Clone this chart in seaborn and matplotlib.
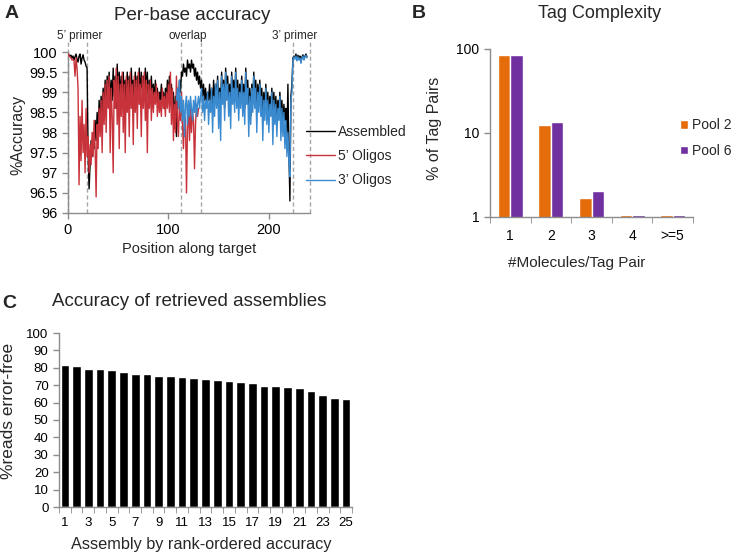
import numpy as np
import pandas as pd
import matplotlib
matplotlib.use("Agg")
import matplotlib.pyplot as plt
import seaborn as sns

# ---- panel A: per-base accuracy ----
assembled_start = 0
assembled = [
    99.95, 99.93, 99.90, 99.92, 99.85, 99.90, 99.80, 99.88, 99.95, 99.82,
    99.75, 99.90, 99.95, 99.70, 99.85, 99.93, 99.80, 99.75, 99.65, 99.60,
    97.5, 96.6, 97.2, 97.8, 97.4, 98.0, 97.6, 98.3, 97.8, 98.5,
    98.0, 98.8, 98.2, 98.9, 98.4, 99.1, 98.6, 99.3, 98.5, 99.4,
    98.9, 99.5, 98.7, 99.3, 98.8, 99.6, 98.9, 99.4, 98.6, 99.7,
    99.0, 99.5, 98.8, 99.4, 98.7, 99.5, 98.9, 99.3, 98.6, 99.5,
    98.9, 99.4, 98.8, 99.6, 99.0, 99.3, 98.7, 99.5, 98.9, 99.4,
    99.0, 99.6, 98.8, 99.5, 99.1, 99.4, 98.9, 99.6, 99.0, 99.5,
    98.8, 99.3, 99.0, 99.4, 98.9, 99.2, 98.8, 99.3, 98.9, 99.1,
    98.7, 99.0, 98.8, 99.2, 98.7, 99.0, 98.6, 99.1, 98.8, 99.3,
    98.9, 99.4, 98.8, 99.2, 98.4, 99.0, 98.1, 98.9, 97.9, 99.1,
    98.6, 99.3, 99.0, 99.5, 99.4, 99.7, 99.5, 99.6, 99.4, 99.8,
    99.6, 99.7, 99.5, 99.8, 99.6, 99.7, 99.4, 99.6, 99.3, 99.5,
    99.2, 99.4, 99.1, 99.3, 98.9, 99.2, 98.8, 99.1, 98.7, 99.0,
    98.8, 99.2, 98.7, 99.1, 98.6, 99.3, 98.8, 99.2, 98.9, 99.4,
    98.7, 99.1, 98.8, 99.5, 98.9, 99.3, 98.6, 99.6, 99.0, 99.4,
    98.8, 99.2, 98.7, 99.5, 99.0, 99.3, 98.8, 99.6, 98.9, 99.3,
    98.7, 99.2, 98.9, 99.4, 98.8, 99.2, 98.6, 99.6, 99.0, 99.3,
    98.6, 99.1, 98.4, 99.2, 98.7, 99.5, 98.9, 99.3, 98.6, 99.2,
    98.8, 99.3, 98.7, 99.1, 98.5, 99.0, 98.6, 99.2, 98.5, 99.0,
    98.4, 98.9, 98.6, 99.1, 98.5, 99.0, 98.4, 98.9, 98.3, 98.8,
    98.5, 99.0, 98.4, 98.8, 98.2, 98.7, 98.3, 98.6, 97.8, 99.2,
    97.5, 96.3, 98.9, 99.2, 99.85, 99.9, 99.85, 99.95, 99.8, 99.92,
    99.85, 99.9, 99.75, 99.88, 99.93, 99.82, 99.9, 99.95, 99.88,
]

oligo5_start = 0
oligo5 = [
    99.95, 99.9, 99.88, 99.85, 99.8, 99.82, 99.78, 99.4, 99.85, 99.6,
    99.1, 96.7, 98.4, 97.3, 98.8, 97.5, 98.2, 97.0, 98.6, 97.4,
    97.9, 97.0, 97.7, 97.2, 98.0, 97.4, 98.3, 97.6, 96.4, 98.2,
    97.6, 98.6, 97.9, 98.8, 97.5, 99.0, 98.2, 99.2, 98.0, 99.3,
    98.6, 99.4, 97.5, 99.1, 98.4, 97.0, 99.3, 98.6, 99.6, 98.2,
    99.4, 97.6, 99.2, 98.4, 99.5, 98.0, 99.2, 97.5, 99.4, 98.5,
    99.3, 97.9, 99.5, 98.6, 99.2, 97.7, 99.4, 98.5, 99.3, 98.1,
    99.5, 98.7, 99.2, 97.9, 99.4, 98.6, 99.5, 98.3, 99.3, 97.5,
    99.2, 98.6, 99.3, 98.3, 99.1, 98.5, 99.0, 98.7, 99.2, 98.4,
    99.0, 98.5, 98.8, 98.4, 99.1, 98.6, 98.9, 98.4, 99.0, 98.6,
    99.2, 98.5, 99.5, 98.2, 99.1, 97.8, 98.7, 98.0, 99.4, 98.3,
    97.9, 98.8, 98.3, 99.0, 98.2, 97.6, 98.4, 98.3, 96.5, 98.1,
    98.7, 97.8, 98.6, 98.0, 98.5, 98.3, 97.1, 98.2, 98.7, 98.4,
    98.6,
]

oligo3_start = 108
oligo3 = [
    98.8, 99.1, 98.6, 99.3, 98.5, 98.9, 98.3, 98.8, 97.9, 98.7,
    98.9, 98.2, 98.8, 98.4, 98.9, 98.6, 98.3, 98.8, 98.5, 98.9,
    98.4, 98.7, 98.9, 98.6, 98.9, 99.1, 98.5, 98.9, 98.3, 98.8,
    98.6, 99.0, 98.2, 98.8, 98.5, 99.1, 98.0, 98.9, 98.4, 99.2,
    98.6, 99.3, 98.1, 99.0, 97.8, 99.4, 98.7, 99.2, 98.3, 99.5,
    98.8, 99.2, 98.4, 99.0, 98.1, 99.4, 98.7, 99.1, 98.5, 99.5,
    98.6, 99.1, 98.3, 99.0, 98.6, 99.3, 98.4, 99.0, 98.2, 99.5,
    98.7, 99.1, 97.9, 98.9, 98.2, 99.1, 98.5, 99.4, 98.6, 99.1,
    98.0, 99.0, 98.5, 99.2, 98.4, 98.9, 97.8, 98.8, 98.3, 99.1,
    98.2, 98.8, 98.0, 98.7, 98.4, 99.0, 97.7, 98.8, 98.2, 98.7,
    97.9, 98.6, 98.3, 98.9, 97.8, 98.6, 97.9, 98.5, 97.6, 98.3,
    97.4, 98.0, 97.3, 96.9, 98.8, 99.0, 99.8, 99.88, 99.82, 99.9,
    99.78, 99.88, 99.8, 99.85, 99.72, 99.85, 99.9, 99.8, 99.88, 99.92,
    99.85,
]

region_bounds = [0, 19, 113, 132, 224, 241]
region_names = ["5\u2019 primer", "overlap", "3\u2019 primer"]
region_label_pos = [12, 119, 226]

# ---- panel B: tag complexity ----
tag_cats = ["1", "2", "3", "4", ">=5"]
pool2 = [85.0, 12.4, 1.7, 1.05, 1.05]
pool6 = [84.0, 13.4, 2.06, 1.05, 1.05]

# ---- panel C: accuracy of retrieved assemblies ----
ranks = list(range(1, 26))
error_free = [81.7, 80.8, 79.2, 79.2, 78.8, 77.7, 76.3, 76.2, 75.4, 75.2,
              74.8, 74.4, 73.8, 73.1, 72.3, 71.7, 71.5, 69.6, 69.4, 69.0,
              68.5, 66.9, 64.2, 62.9, 62.3]

sns.set_style("ticks")
plt.rcParams['font.family'] = ['Liberation Sans', 'DejaVu Sans']
AX_GREY = "#8c8c8c"

W, H = 734, 555
fig = plt.figure(figsize=(W / 100, H / 100), dpi=100)


def px_axes(l, t, r, b):
    return fig.add_axes([l / W, 1 - b / H, (r - l) / W, (b - t) / H])


def style_axes(ax):
    sns.despine(ax=ax)
    for s in ["left", "bottom"]:
        ax.spines[s].set_color(AX_GREY)
        ax.spines[s].set_linewidth(1)
    ax.tick_params(colors=AX_GREY, length=4, width=1, direction="out")
    ax.tick_params(labelcolor="black")


# ---- A ----
axA = px_axes(68, 52, 310, 213)
for start, vals, col, lab, z in [
    (assembled_start, assembled, "black", "Assembled", 2),
    (oligo5_start, oligo5, "#c8323a", "5\u2019 Oligos", 3),
    (oligo3_start, oligo3, "#3a8ad0", "3\u2019 Oligos", 4),
]:
    xs = np.arange(start, start + len(vals))
    sns.lineplot(x=xs, y=vals, ax=axA, color=col, lw=1.0, label=lab,
                 estimator=None, zorder=z)
for b in region_bounds:
    axA.vlines(b, 96, 100.27, colors="#a6a6a6", linestyles=(0, (3, 2)),
               lw=1, clip_on=False, zorder=1)
for name, xp in zip(region_names, region_label_pos):
    axA.text(xp, 100.4, name, ha="center", va="center", fontsize=8.5)
axA.set_xlim(0, 241)
axA.set_ylim(96, 100)
axA.set_xticks([0, 100, 200])
axA.set_yticks(np.arange(96, 100.01, 0.5))
axA.set_yticklabels([f"{v:g}" for v in np.arange(96, 100.01, 0.5)])
style_axes(axA)
axA.tick_params(labelsize=10.5)
axA.set_xlabel("")
axA.set_ylabel("")
axA.legend(loc="center left", bbox_to_anchor=(306 / W, 1 - 156 / H),
           bbox_transform=fig.transFigure, frameon=False, fontsize=10,
           handlelength=2.1, handletextpad=0.2, labelspacing=0.75,
           borderpad=0, borderaxespad=0)
fig.text(192 / W, 1 - 15 / H, "Per-base accuracy", ha="center", va="center",
         fontsize=13.5)
fig.text(189 / W, 1 - 249 / H, "Position along target", ha="center",
         va="center", fontsize=10.5)
fig.text(18 / W, 1 - 135 / H, "%Accuracy", ha="center", va="center",
         rotation=90, fontsize=11.5)
fig.text(12 / W, 1 - 14 / H, "A", ha="center", va="center", fontsize=14,
         fontweight="bold")

# ---- B ----
axB = px_axes(490, 49, 693, 217)
dfB = pd.DataFrame({
    "cat": tag_cats * 2,
    "pct": pool2 + pool6,
    "pool": ["Pool 2"] * len(tag_cats) + ["Pool 6"] * len(tag_cats),
})
sns.barplot(data=dfB, x="cat", y="pct", hue="pool", ax=axB,
            palette=["#e46c0a", "#7030a0"], width=0.62, saturation=1)
axB.set_yscale("log")
axB.set_ylim(1, 100)
axB.set_yticks([1, 10, 100])
axB.set_yticklabels(["1", "10", "100"])
axB.yaxis.set_minor_locator(matplotlib.ticker.NullLocator())
axB.set_xlim(-0.5, 4.5)
axB.set_xticks(np.arange(-0.5, 4.6, 1), minor=True)
style_axes(axB)
axB.tick_params(axis="x", which="major", length=0, pad=9)
axB.tick_params(axis="x", which="minor", length=4, color=AX_GREY)
axB.tick_params(labelsize=10)
axB.set_xlabel("")
axB.set_ylabel("")
axB.legend(loc="center left", bbox_to_anchor=(680 / W, 1 - 138 / H),
           bbox_transform=fig.transFigure, frameon=False, fontsize=10,
           handlelength=0.6, handleheight=0.6, handletextpad=0.25,
           labelspacing=0.85, borderpad=0, borderaxespad=0)
fig.text(600 / W, 1 - 14 / H, "Tag Complexity", ha="center", va="center",
         fontsize=13)
fig.text(577 / W, 1 - 263 / H, "#Molecules/Tag Pair", ha="center",
         va="center", fontsize=11)
fig.text(435 / W, 1 - 128 / H, "% of Tag Pairs", ha="center", va="center",
         rotation=90, fontsize=11.5)
fig.text(419 / W, 1 - 13 / H, "B", ha="center", va="center", fontsize=14,
         fontweight="bold")

# ---- C ----
axC = px_axes(59, 333, 352, 507)
sns.barplot(x=[str(r) for r in ranks], y=error_free, ax=axC, color="black",
            width=0.74, saturation=1)
axC.set_ylim(0, 100)
axC.set_yticks(range(0, 101, 10))
axC.set_xlim(-0.5, 24.5)
axC.set_xticks(range(0, 25, 2))
axC.set_xticklabels([str(r) for r in ranks[::2]])
axC.set_xticks(np.arange(-0.5, 24.6, 1), minor=True)
style_axes(axC)
axC.tick_params(axis="x", which="major", length=0, pad=7)
axC.tick_params(axis="x", which="minor", length=4, color=AX_GREY)
axC.tick_params(labelsize=9.5)
fig.text(52 / W, 1 - 302 / H, "Accuracy of retrieved assemblies", ha="left",
         va="center", fontsize=13.5)
fig.text(201 / W, 1 - 545 / H, "Assembly by rank-ordered accuracy",
         ha="center", va="center", fontsize=11.7)
fig.text(9 / W, 1 - 411 / H, "%reads error-free", ha="center", va="center",
         rotation=90, fontsize=12.5)
fig.text(9 / W, 1 - 303 / H, "C", ha="center", va="center", fontsize=14,
         fontweight="bold")

fig.savefig("out.png", dpi=100)
